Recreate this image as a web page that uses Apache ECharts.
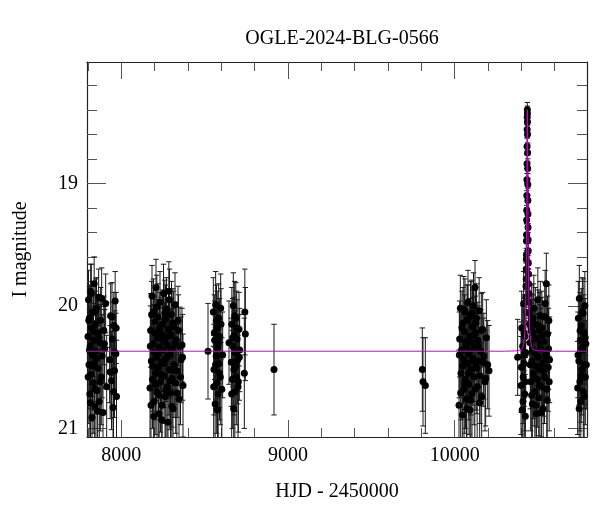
<!DOCTYPE html>
<html>
<head>
<meta charset="utf-8">
<script src="https://cdn.jsdelivr.net/npm/echarts@6/dist/echarts.min.js"></script>
<style>html,body{margin:0;padding:0;background:#fff}#c{width:600px;height:512px}</style>
</head>
<body>
<div id="c"></div>
<script>
// ---- axis ticks ----
const xMajorTicks = [8000, 9000, 10000];
const xMinorTicks = [7800, 8200, 8400, 8600, 8800, 9200, 9400, 9600, 9800, 10200, 10400, 10600];
const yMajorTicks = [19, 20, 21];
const yMinorTicks = [18.2, 18.4, 18.6, 18.8, 19.2, 19.4, 19.6, 19.8, 20.2, 20.4, 20.6, 20.8];

// ---- observations: HJD-2450000, I mag, error ----
const s1_t = [7800,7803,7806,7808,7811,7813,7816,7818,7821,7824,7826,7829,7831,7834,7837,7839,7842,7845,7848,7851,7854,7857,7860,7864,7868,7872,7876,7880,7885,7890,7895,7900,7906,7912,7930,7936,7941,7946,7950,7955,7959,7963,7967,7971];
const s1_m = [20.25,19.95,20.48,20.10,20.72,20.33,19.88,20.56,20.18,20.91,20.40,20.05,20.63,20.28,19.82,20.47,20.82,20.15,20.37,20.02,20.69,20.22,20.51,19.93,20.78,20.30,20.12,20.58,20.41,20.87,20.20,20.35,19.98,20.66,20.44,20.08,20.61,20.27,20.83,20.16,20.53,19.96,20.39,20.74];
const s1_e = [0.30,0.24,0.36,0.27,0.45,0.31,0.22,0.38,0.28,0.52,0.34,0.25,0.41,0.30,0.22,0.35,0.48,0.27,0.33,0.25,0.44,0.29,0.37,0.23,0.47,0.31,0.27,0.39,0.34,0.50,0.28,0.32,0.24,0.42,0.35,0.26,0.40,0.30,0.49,0.27,0.38,0.24,0.33,0.46];
const s1x_t = [7801,7805,7809,7815,7820,7827,7833,7840,7846,7852,7858,7866,7874,7882,7898,7933,7944,7953,7961,7969];
const s1x_m = [20.58,20.12,20.36,20.79,19.90,20.49,20.21,20.68,20.04,20.43,20.86,20.26,20.62,19.94,20.31,20.54,20.09,20.70,20.38,20.18];
const s1x_e = [0.38,0.28,0.34,0.47,0.24,0.36,0.30,0.43,0.26,0.35,0.49,0.31,0.40,0.25,0.32,0.38,0.28,0.43,0.34,0.29];

const s2_t = [8172,8176,8180,8184,8187,8190,8193,8196,8199,8202,8205,8208,8211,8214,8217,8220,8223,8226,8229,8232,8235,8238,8241,8244,8247,8250,8253,8256,8259,8262,8265,8268,8271,8274,8277,8280,8283,8286,8289,8292,8295,8298,8301,8304,8307,8310,8314,8318,8322,8326,8330,8335,8340,8346,8352,8358,8364,8370];
const s2_m = [20.67,20.20,20.45,19.92,20.60,20.31,20.05,20.78,20.38,20.13,20.55,19.85,20.42,20.70,20.26,20.09,20.50,20.88,20.34,19.97,20.62,20.23,20.46,20.81,20.15,20.36,19.90,20.57,20.29,20.74,20.11,20.43,20.03,20.66,20.32,20.95,20.19,20.52,19.95,20.40,20.71,20.24,20.07,20.59,20.35,20.84,20.17,20.48,19.99,20.63,20.28,20.53,20.12,20.76,20.33,20.44,20.32,20.65];
const s2_e = [0.47,0.30,0.36,0.25,0.40,0.32,0.27,0.45,0.34,0.29,0.38,0.23,0.35,0.43,0.31,0.27,0.37,0.50,0.33,0.25,0.41,0.30,0.36,0.47,0.28,0.34,0.24,0.39,0.31,0.44,0.28,0.35,0.26,0.42,0.32,0.52,0.29,0.37,0.25,0.35,0.44,0.30,0.27,0.40,0.33,0.48,0.29,0.36,0.26,0.41,0.31,0.38,0.28,0.45,0.32,0.35,0.30,0.42];
const s2x_t = [8174,8178,8182,8189,8195,8201,8207,8213,8219,8225,8231,8237,8243,8249,8255,8261,8267,8273,8279,8285,8291,8297,8303,8309,8316,8324,8333,8343,8355,8367];
const s2x_m = [20.33,20.81,20.07,20.49,20.90,20.22,20.64,20.01,20.39,20.73,20.18,20.56,20.93,20.28,20.47,20.06,20.69,20.25,20.41,19.88,20.61,20.36,20.82,20.14,20.53,20.30,20.71,20.20,20.58,20.42];
const s2x_e = [0.33,0.47,0.27,0.37,0.50,0.30,0.41,0.26,0.34,0.45,0.29,0.38,0.52,0.31,0.36,0.27,0.43,0.30,0.35,0.24,0.40,0.33,0.47,0.28,0.38,0.32,0.44,0.29,0.39,0.35];

const s3_t = [8520,8552,8554,8556,8558,8560,8563,8565,8566,8569,8571,8572,8575,8577,8578,8581,8583,8584,8587,8589,8590,8594,8596,8598,8603,8608];
const s3_m = [20.37,20.05,20.66,20.52,20.22,20.28,20.80,20.48,19.99,20.41,20.12,20.63,20.18,20.85,20.34,20.72,20.30,20.10,20.47,20.55,20.25,20.58,20.02,20.15,20.68,20.40];
const s3_e = [0.39,0.28,0.42,0.37,0.31,0.32,0.46,0.36,0.27,0.35,0.29,0.41,0.30,0.47,0.33,0.44,0.33,0.28,0.36,0.38,0.31,0.39,0.28,0.29,0.42,0.35];

const s4_t = [8646,8660,8662,8663,8666,8668,8669,8672,8674,8675,8678,8680,8681,8684,8686,8687,8690,8692,8694,8698,8700,8702,8706,8708,8710,8738,8741,8744];
const s4_m = [20.30,20.46,20.72,20.15,20.60,20.26,20.33,20.00,20.84,20.52,20.24,20.08,20.70,20.38,20.49,20.10,20.58,20.18,20.27,20.44,20.66,20.62,20.19,20.42,20.36,20.55,20.05,20.23];
const s4_e = [0.34,0.36,0.44,0.30,0.40,0.32,0.33,0.27,0.47,0.37,0.31,0.28,0.43,0.34,0.37,0.29,0.39,0.30,0.32,0.36,0.42,0.41,0.30,0.35,0.34,0.45,0.35,0.38];

const s5_t = [8916,9806,9810,9824];
const s5_m = [20.52,20.52,20.62,20.65];
const s5_e = [0.37,0.34,0.36,0.39];

const s6_t = [10026,10030,10034,10038,10042,10046,10050,10053,10056,10059,10062,10065,10068,10071,10074,10077,10080,10083,10086,10089,10092,10095,10098,10101,10104,10107,10110,10113,10116,10119,10122,10125,10128,10131,10135,10139,10143,10147,10152,10157,10162,10168,10175,10182,10190,10198,10206];
const s6_m = [20.81,20.27,20.02,20.55,20.36,20.89,20.14,20.44,20.68,20.21,20.05,20.60,20.33,20.76,20.12,20.47,19.97,20.39,20.64,20.25,20.85,20.08,20.52,20.30,20.72,20.17,20.43,20.00,20.58,20.34,19.85,20.22,20.49,20.10,20.66,20.28,20.45,20.04,20.57,20.37,20.74,20.19,20.41,20.62,20.26,20.48,20.53];
const s6_e = [0.45,0.31,0.27,0.38,0.34,0.50,0.29,0.36,0.42,0.30,0.27,0.40,0.33,0.45,0.29,0.36,0.26,0.34,0.41,0.31,0.48,0.28,0.37,0.32,0.44,0.30,0.35,0.27,0.39,0.33,0.22,0.30,0.36,0.28,0.42,0.31,0.35,0.27,0.39,0.34,0.44,0.30,0.35,0.40,0.31,0.36,0.37];
const s6x_t = [10028,10036,10044,10048,10055,10061,10067,10073,10079,10085,10091,10097,10103,10109,10115,10121,10127,10133,10141,10150,10160,10172,10186];
const s6x_m = [20.40,20.71,20.18,20.49,20.03,20.63,20.29,20.84,20.11,20.55,20.37,20.77,20.06,20.45,20.24,20.68,20.14,20.51,20.33,20.79,20.20,20.46,20.59];
const s6x_e = [0.35,0.44,0.30,0.36,0.27,0.41,0.32,0.48,0.28,0.38,0.34,0.46,0.27,0.36,0.31,0.42,0.29,0.37,0.33,0.46,0.30,0.36,0.39];

const s7_t = [10378,10398,10400,10402,10405,10408,10410,10411,10414,10416,10417,10419,10420,10422,10423,10424,10426,
  10427,10428,10429,10429.5,10430,10430.5,10431,10431.5,10432,10432.5,10433,10433.5,10434,10434.5,10435,10435.5,10436,10436.4,10436.8,10437.2,10437.7,10438.2,10438.7,10439.2,10439.7,10440.2,10440.8,10441.4,10442,10442.8,10443.6,10444.5,10445.5,10447,10449,
  10452,10456,10460,10463,10466,10469,10472,10475,10478,10481,10484,10487,10490,10493,10496,10499,10502,10505,10508,10511,10514,10517,10520,10523,10527,10531,10535,10539,10543,10547,10550,10553,10557,10561,10565,10569];
const s7_m = [20.42,20.65,20.50,20.18,20.85,20.33,20.78,20.58,19.98,20.22,20.47,20.40,20.72,20.25,20.62,20.90,20.38,
  19.93,19.84,19.78,19.70,19.62,19.58,19.47,19.42,19.30,19.22,19.10,18.97,18.84,18.70,18.56,18.46,18.40,18.43,18.50,18.60,18.75,18.88,19.01,19.14,19.25,19.36,19.46,19.55,19.65,19.74,19.82,19.90,19.97,20.06,20.15,
  20.30,20.62,20.12,20.45,20.80,20.22,20.55,20.02,20.38,20.70,20.15,20.49,20.88,20.27,20.60,19.95,20.42,20.75,20.20,20.52,20.08,20.35,20.66,20.18,20.47,20.84,20.29,20.58,19.98,20.40,19.82,20.68,20.23,20.50,20.12,20.44];
const s7_e = [0.31,0.40,0.37,0.30,0.45,0.33,0.44,0.38,0.26,0.31,0.35,0.35,0.42,0.31,0.40,0.48,0.34,
  0.20,0.19,0.18,0.17,0.16,0.15,0.14,0.13,0.12,0.11,0.10,0.09,0.08,0.07,0.07,0.06,0.06,0.06,0.06,0.07,0.07,0.08,0.09,0.10,0.11,0.12,0.13,0.15,0.16,0.17,0.19,0.20,0.21,0.23,0.25,
  0.32,0.40,0.29,0.35,0.45,0.31,0.37,0.27,0.34,0.42,0.30,0.36,0.48,0.32,0.39,0.26,0.35,0.43,0.31,0.37,0.28,0.33,0.41,0.30,0.36,0.46,0.32,0.38,0.27,0.34,0.25,0.41,0.31,0.36,0.29,0.35];
const s7x_t = [10454,10458,10462,10467,10471,10477,10483,10489,10495,10501,10507,10513,10519,10525,10533,10541,10549,10555,10563,10567];
const s7x_m = [20.48,20.20,20.73,20.36,20.10,20.59,20.26,20.81,20.41,20.16,20.65,20.31,20.87,20.24,20.53,20.09,20.44,20.77,20.35,20.62];
const s7x_e = [0.36,0.30,0.43,0.34,0.28,0.39,0.31,0.47,0.35,0.29,0.41,0.32,0.49,0.31,0.37,0.28,0.35,0.45,0.33,0.40];

const s8_t = [10738,10740,10742,10745,10747,10748,10751,10753,10754,10757,10759,10760,10763,10765,10766,10769,10771,10772,10775,10777,10778,10781,10783,10784,10787,10790];
const s8_m = [20.67,20.40,20.10,20.45,20.84,19.94,20.62,20.20,20.28,20.78,20.57,20.16,20.52,20.34,20.05,20.36,20.06,20.70,20.22,20.74,20.48,20.00,20.26,20.58,20.31,20.48];
const s8_e = [0.38,0.35,0.30,0.36,0.46,0.27,0.40,0.31,0.33,0.45,0.38,0.30,0.37,0.33,0.28,0.34,0.28,0.42,0.31,0.43,0.36,0.28,0.32,0.39,0.33,0.36];

// ---- microlensing model curve ----
const model_t = [7794,10300,10376,10401,10411,10416,10420,10423,10426,10428,10430,10431,10432,10433,10434,10435,10436,10437,10438,10439,10440,10441,10442,10444,10446,10449,10452,10456,10461,10471,10496,10600,10794];
const model_m = [20.37,20.37,20.367,20.355,20.33,20.29,20.23,20.14,20.00,19.86,19.64,19.49,19.31,19.09,18.82,18.54,18.40,18.54,18.82,19.09,19.31,19.49,19.64,19.86,20.00,20.14,20.23,20.29,20.33,20.355,20.367,20.37,20.37];

const XMIN = 7794, XMAX = 10794, YMIN = 18.01, YMAX = 21.07;

// ---- build ----
const T = [].concat(s1_t, s1x_t, s2_t, s2x_t, s3_t, s4_t, s5_t, s6_t, s6x_t, s7_t, s7x_t, s8_t);
const M = [].concat(s1_m, s1x_m, s2_m, s2x_m, s3_m, s4_m, s5_m, s6_m, s6x_m, s7_m, s7x_m, s8_m);
const E = [].concat(s1_e, s1x_e, s2_e, s2x_e, s3_e, s4_e, s5_e, s6_e, s6x_e, s7_e, s7x_e, s8_e);
const obs = T.map((t, i) => [t, M[i], E[i]]);
const pts = T.map((t, i) => [t, M[i]]);
const model = model_t.map((t, i) => [t, model_m[i]]);

const FONT = '"Liberation Serif", "DejaVu Serif", serif';
const frame = { show: true, lineStyle: { color: '#222', width: 1.2 } };
const tickStyle = { color: '#555', width: 1 };

function xAx(pos, major, showLabel) {
  return {
    type: 'value', position: pos, min: XMIN, max: XMAX,
    axisLine: major ? frame : { show: false },
    axisTick: { show: true, inside: true, length: major ? 17 : 9, customValues: major ? xMajorTicks : xMinorTicks, lineStyle: tickStyle },
    axisLabel: showLabel ? { show: true, customValues: xMajorTicks, formatter: v => String(v), fontFamily: FONT, fontSize: 20, color: '#000', margin: 9 } : { show: false },
    splitLine: { show: false },
    name: showLabel ? 'HJD - 2450000' : '',
    nameLocation: 'middle', nameGap: 45,
    nameTextStyle: { fontFamily: FONT, fontSize: 20, color: '#000' }
  };
}
function yAx(pos, major, showLabel) {
  return {
    type: 'value', position: pos, min: YMIN, max: YMAX, inverse: true,
    axisLine: major ? frame : { show: false },
    axisTick: { show: true, inside: true, length: major ? 19 : 10, customValues: major ? yMajorTicks : yMinorTicks, lineStyle: tickStyle },
    axisLabel: showLabel ? { show: true, customValues: yMajorTicks, formatter: v => String(v), fontFamily: FONT, fontSize: 20, color: '#000', margin: 9 } : { show: false },
    splitLine: { show: false },
    name: showLabel ? 'I magnitude' : '',
    nameLocation: 'middle', nameGap: 56,
    nameTextStyle: { fontFamily: FONT, fontSize: 20, color: '#000' }
  };
}

const chart = echarts.init(document.getElementById('c'), null, { renderer: 'canvas' });
chart.setOption({
  animation: false,
  backgroundColor: '#fff',
  title: {
    text: 'OGLE-2024-BLG-0566', left: 337, top: 24, textAlign: 'center',
    textStyle: { fontFamily: FONT, fontSize: 20, fontWeight: 'normal', color: '#000' }
  },
  grid: { left: 87, right: 13, top: 62, bottom: 75, containLabel: false },
  xAxis: [xAx('bottom', true, true), xAx('bottom', false, false), xAx('top', true, false), xAx('top', false, false)],
  yAxis: [yAx('left', true, true), yAx('left', false, false), yAx('right', true, false), yAx('right', false, false)],
  series: [
    {
      type: 'custom', xAxisIndex: 0, yAxisIndex: 0, clip: true, z: 2,
      data: obs,
      renderItem: function (params, api) {
        const x = api.value(0), m = api.value(1), e = api.value(2);
        const a = api.coord([x, m - e]);
        const b = api.coord([x, m + e]);
        const cw = 2.7;
        const st = { stroke: '#1a1a1a', lineWidth: 1 };
        return {
          type: 'group',
          children: [
            { type: 'line', shape: { x1: a[0], y1: a[1], x2: b[0], y2: b[1] }, style: st },
            { type: 'line', shape: { x1: a[0] - cw, y1: a[1], x2: a[0] + cw, y2: a[1] }, style: st },
            { type: 'line', shape: { x1: b[0] - cw, y1: b[1], x2: b[0] + cw, y2: b[1] }, style: st }
          ]
        };
      }
    },
    {
      type: 'scatter', xAxisIndex: 0, yAxisIndex: 0, z: 3,
      data: pts, symbol: 'circle', symbolSize: 7,
      itemStyle: { color: '#000', opacity: 1 }
    },
    {
      type: 'line', xAxisIndex: 0, yAxisIndex: 0, z: 4,
      data: model, showSymbol: false, symbol: 'none', smooth: false,
      lineStyle: { color: '#d000d0', width: 1 }
    }
  ]
});
</script>
</body>
</html>
